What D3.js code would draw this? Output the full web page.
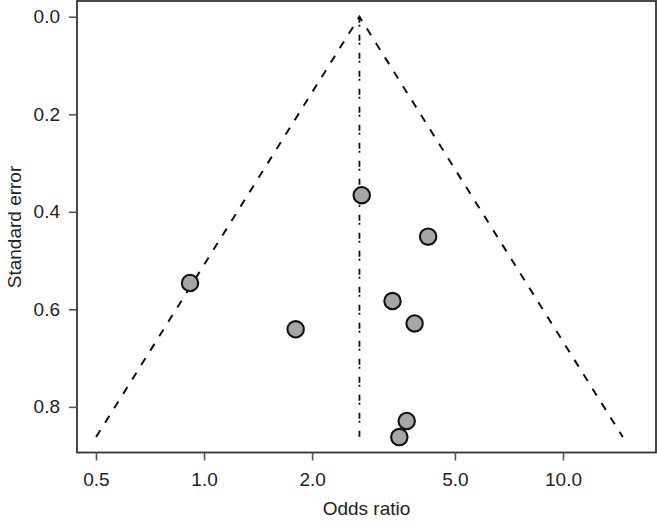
<!DOCTYPE html>
<html><head><meta charset="utf-8">
<script src="https://cdn.jsdelivr.net/npm/d3@7"></script>
<style>body{margin:0;background:#fff}svg{display:block}</style>
</head><body><svg id="c" width="657" height="522"></svg>
<script>
// Study estimates (odds ratio) and standard errors
const studyOR = [2.75, 4.21, 0.914, 3.35, 3.86, 1.80, 3.67, 3.50];
const studySE = [0.366, 0.451, 0.546, 0.583, 0.629, 0.641, 0.829, 0.862];
// Pooled estimate and critical value for the pseudo-confidence funnel
const pooledOR = 2.71;
const zCrit = 1.96;
// Tick labels
const xTicks = [0.5, 1.0, 2.0, 5.0, 10.0];
const yTicks = [0.0, 0.2, 0.4, 0.6, 0.8];

const svg = d3.select("#c");
const L = 77, R = 656, T = 0, B = 452.5;
const font = "'Liberation Sans', Arial, Helvetica, sans-serif";
const fs = 19;

const x = d3.scaleLog().domain([0.4427, 18.16]).range([L, R]);
const y = d3.scaleLinear().domain([-0.0343, 0.8936]).range([T, B]);

const seMax = d3.max(studySE);

// Funnel lines
const lnP = Math.log(pooledOR);
const lower = [[pooledOR, 0], [Math.exp(lnP - zCrit * seMax), seMax]];
const upper = [[pooledOR, 0], [Math.exp(lnP + zCrit * seMax), seMax]];
const line = d3.line().x(d => x(d[0])).y(d => y(d[1]));

svg.append("path").attr("d", line([lower[1], lower[0], upper[1]]))
  .attr("fill", "none").attr("stroke", "#111").attr("stroke-width", 2)
  .attr("stroke-dasharray", "8,9");

// Reference line
svg.append("path").attr("d", line([[pooledOR, 0], [pooledOR, seMax]]))
  .attr("fill", "none").attr("stroke", "#111").attr("stroke-width", 1.8)
  .attr("stroke-dasharray", "6,2,2,8");

// Points
svg.append("g").selectAll("circle").data(studyOR.map((o, i) => [o, studySE[i]]))
  .join("circle")
  .attr("cx", d => x(d[0])).attr("cy", d => y(d[1])).attr("r", 8.2)
  .attr("fill", "#a6a6a6").attr("stroke", "#111").attr("stroke-width", 2.1);

// Box
svg.append("rect").attr("x", L).attr("y", T + 1).attr("width", R - L).attr("height", B - T - 1)
  .attr("fill", "none").attr("stroke", "#333").attr("stroke-width", 1.8);

// Axes
const xAxis = svg.append("g").attr("transform", `translate(0,${B})`)
  .call(d3.axisBottom(x).tickValues(xTicks).tickFormat(d3.format(".1f")).tickSize(8).tickPadding(12));
const yAxis = svg.append("g").attr("transform", `translate(${L},0)`)
  .call(d3.axisLeft(y).tickValues(yTicks).tickFormat(d3.format(".1f")).tickSize(8).tickPadding(9));
[xAxis, yAxis].forEach(g => {
  g.select(".domain").remove();
  g.selectAll(".tick line").attr("stroke", "#555").attr("stroke-width", 1.6);
  g.selectAll(".tick text").attr("font-family", font).attr("font-size", fs).attr("fill", "#222");
});

svg.append("text").attr("x", (L + R) / 2).attr("y", 515).attr("text-anchor", "middle")
  .attr("font-family", font).attr("font-size", fs).attr("fill", "#222").text("Odds ratio");
svg.append("text").attr("transform", "translate(21,227) rotate(-90)").attr("text-anchor", "middle")
  .attr("font-family", font).attr("font-size", fs).attr("fill", "#222").text("Standard error");
</script></body></html>
